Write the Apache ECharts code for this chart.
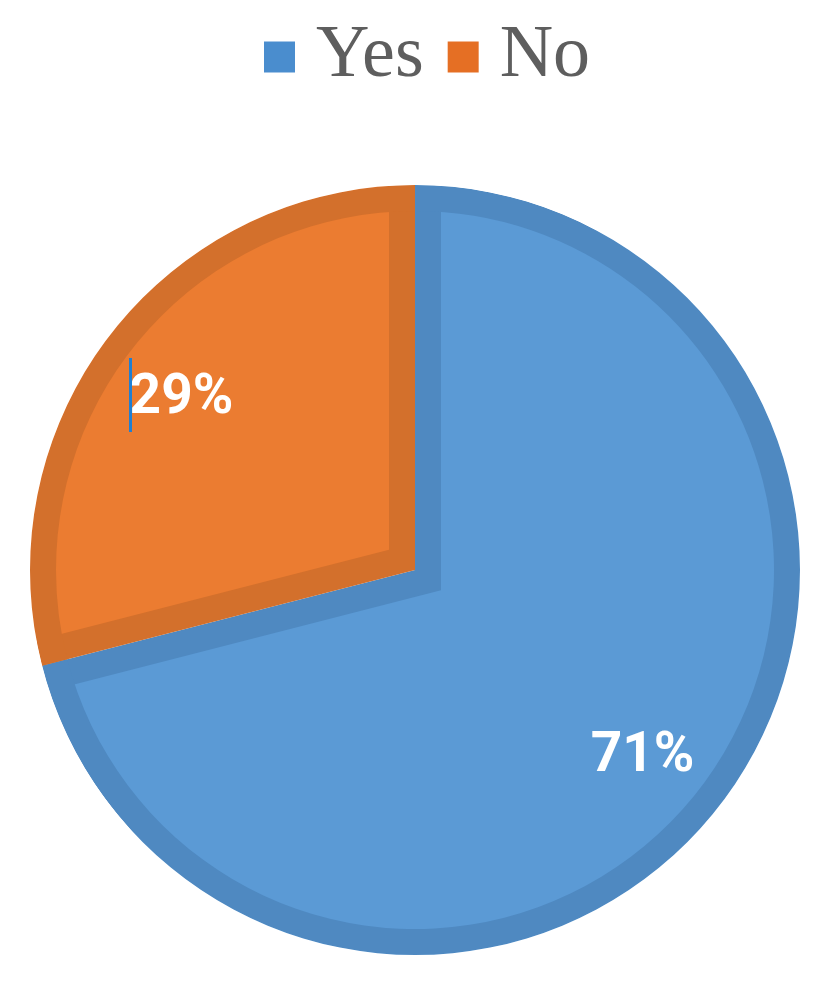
<!DOCTYPE html>
<html>
<head>
<meta charset="utf-8">
<script src="https://cdn.jsdelivr.net/npm/echarts@6/dist/echarts.min.js"></script>
<style>
  html, body { margin: 0; padding: 0; background: #fff; }
  #chart { width: 831px; height: 990px; }
</style>
</head>
<body>
<div id="chart"></div>
<script>
// data
var categories = ['Yes', 'No'];
var values = [71, 29];
var fillColors = ['#5B9AD5', '#EB7C31'];
var bandColors = ['#4F89C1', '#D3702C'];
var legendColors = ['#4A8DCE', '#E56F24'];

var chart = echarts.init(document.getElementById('chart'));

var cx = 415, cy = 570;   // pie centre
var R = 385;              // outer radius
var band = 26;            // darker bevel band inside each slice

var total = values.reduce(function (a, b) { return a + b; }, 0);

function norm(a) { return ((a % 360) + 360) % 360; }

// light inner part of each slice: same wedge, apex pushed in along the bisector
var innerSeries = [];
var cum = 0;
values.forEach(function (v, i) {
    var theta = v / total * 360;
    var start = 90 - cum / total * 360;
    var bis = (start - theta / 2) * Math.PI / 180;
    var s = band / Math.sin(theta / 2 * Math.PI / 180);
    innerSeries.push({
        type: 'pie',
        silent: true,
        center: [cx + s * Math.cos(bis), cy - s * Math.sin(bis)],
        radius: R - band + s,
        startAngle: norm(start),
        label: { show: false },
        labelLine: { show: false },
        data: [
            { name: categories[i], value: v, itemStyle: { color: fillColors[i] } },
            { name: '_rest', value: total - v, itemStyle: { color: 'rgba(0,0,0,0)' } }
        ]
    });
    cum += v;
});

function slices(colors) {
    return categories.map(function (c, i) {
        return { name: c, value: values[i], itemStyle: { color: colors[i] } };
    });
}

var option = {
    animation: false,
    backgroundColor: '#fff',
    legend: {
        left: 259,
        top: 14,
        itemWidth: 31,
        itemHeight: 31,
        itemGap: 24,
        icon: 'rect',
        selectedMode: false,
        textStyle: {
            fontFamily: 'Liberation Serif',
            fontSize: 74,
            lineHeight: 76,
            color: '#5E5E5E',
            padding: [0, 0, 0, 16]
        },
        data: categories.map(function (c, i) {
            return { name: c, itemStyle: { color: legendColors[i] } };
        })
    },
    graphic: [{
        // text cursor left in the source image
        type: 'rect',
        left: 129,
        top: 358,
        shape: { width: 3, height: 74 },
        style: { fill: '#1F7FD2' },
        z: 100
    }],
    series: [{
        type: 'pie',
        silent: true,
        center: [cx, cy],
        radius: R,
        startAngle: 90,
        label: { show: false },
        labelLine: { show: false },
        data: slices(bandColors)
    }].concat(innerSeries).concat([{
        type: 'pie',
        silent: true,
        center: [cx, cy],
        radius: [R - band, R],
        startAngle: 90,
        label: { show: false },
        labelLine: { show: false },
        data: slices(bandColors)
    }, {
        type: 'pie',
        silent: true,
        center: [cx, cy],
        radius: [R, R + 60],
        label: { show: false },
        labelLine: { show: false },
        data: [{ name: '_mask', value: 1, itemStyle: { color: '#fff' } }]
    }, {
        type: 'pie',
        silent: true,
        center: [cx, cy],
        radius: [R / 2, R],
        startAngle: 90,
        itemStyle: { color: 'rgba(0,0,0,0)' },
        label: {
            show: true,
            position: 'inside',
            formatter: '{d}%',
            color: '#fff',
            fontFamily: 'Roboto',
            fontWeight: 'bold',
            fontSize: 55,
            offset: [-3, 8]
        },
        labelLine: { show: false },
        data: slices(['rgba(0,0,0,0)', 'rgba(0,0,0,0)'])
    }])
};

chart.setOption(option);
</script>
</body>
</html>
